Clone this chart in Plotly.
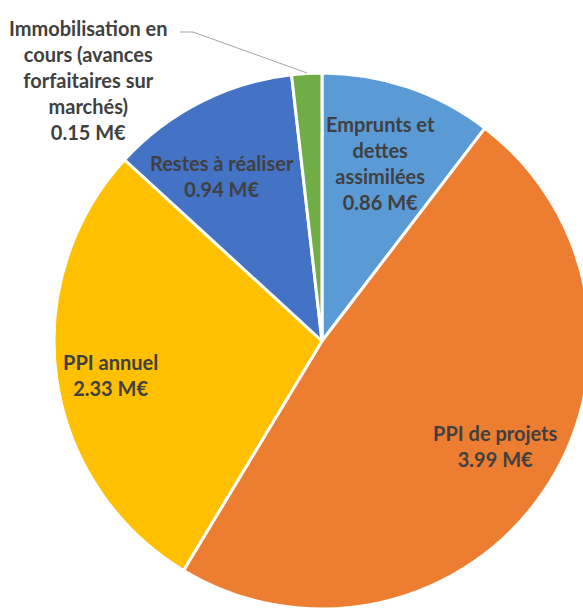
import plotly.graph_objects as go

labels = [
    "Emprunts et<br>dettes<br>assimilées",
    "PPI de projets",
    "PPI annuel",
    "Restes à réaliser",
    "Immobilisation en<br>cours (avances<br>forfaitaires sur<br>marchés)",
]
values = [0.86, 3.99, 2.33, 0.94, 0.15]
colors = ["#5B9BD5", "#ED7D31", "#FFC000", "#4472C4", "#70AD47"]

# figure is slightly larger than the window so the pie gets cut at the edges
W, H = 592, 612

# label centres in page pixels
label_pos = [(380, 163), (495, 446), (110, 375), (222, 176), (88, 80)]


def px(x):
    return x / W


def py(y):
    return 1 - y / H


# pie centre (322, 341) radius 268 in page pixels
cx, cy, r = 322, 341, 268

fig = go.Figure(
    go.Pie(
        labels=labels,
        values=values,
        sort=False,
        direction="clockwise",
        rotation=0,
        marker=dict(colors=colors, line=dict(color="white", width=3)),
        textinfo="none",
        hoverinfo="label+value",
        domain=dict(x=[(cx - r) / W, min(1, (cx + r) / W)],
                    y=[max(0, 1 - (cy + r) / H), 1 - (cy - r) / H]),
        showlegend=False,
    )
)

for lab, val, (lx, ly) in zip(labels, values, label_pos):
    fig.add_annotation(
        x=px(lx), y=py(ly), xref="paper", yref="paper",
        xanchor="center", yanchor="middle",
        text=f"<b>{lab}<br>{val:.2f} M€</b>",
        showarrow=False, align="center",
        font=dict(family="Lato", size=20, color="#404040"),
    )

# leader line for the small green slice
fig.add_shape(
    type="path", xref="paper", yref="paper",
    path=f"M {px(180)} {py(32)} L {px(193)} {py(32)} L {px(307)} {py(73)}",
    line=dict(color="#A6A6A6", width=1),
)

fig.update_layout(
    width=W, height=H,
    margin=dict(l=0, r=0, t=0, b=0),
    paper_bgcolor="white",
)

fig.write_html(
    "out.html",
    config={"displayModeBar": False},
    post_script="document.body.style.margin='0';"
                "document.documentElement.style.overflow='hidden';"
                "document.body.style.overflow='hidden';",
)
